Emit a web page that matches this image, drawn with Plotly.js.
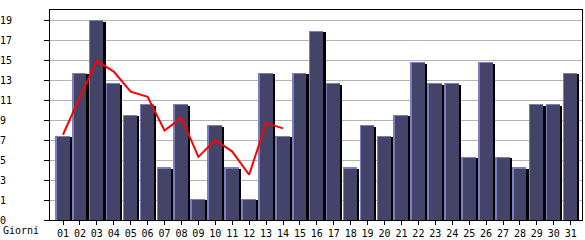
<!DOCTYPE html>
<html>
<head>
<meta charset="utf-8">
<script src="https://cdn.plot.ly/plotly-3.0.1.min.js"></script>
<style>html,body{margin:0;padding:0;background:#fff;}#chart{width:585px;height:240px;}</style>
</head>
<body>
<div id="chart"></div>
<script>
const days = ["01","02","03","04","05","06","07","08","09","10","11","12","13","14","15","16","17","18","19","20","21","22","23","24","25","26","27","28","29","30","31"];
const visits = [8,14,19,13,10,11,5,11,2,9,5,2,14,8,14,18,13,5,9,8,10,15,13,13,6,15,6,5,11,11,14];
const trendDays = ["01","02","03","04","05","06","07","08","09","10","11","12","13","14"];
const trendValues = [8.1,11.7,15.1,14.1,12.2,11.7,8.5,9.7,6.0,7.6,6.5,4.3,9.2,8.7];
const yTickVals = [0,1.9,3.8,5.7,7.6,9.5,11.4,13.3,15.2,17.1,19];
const yTickText = ["0","1","3","5","7","9","11","13","15","17","19"];

const yMax = 19.95;
const plotH = 210, pxPerUnit = plotH / yMax;
const font = {family: "DejaVu Sans Mono", size: 10, color: "#000"};

const shadow = {type: "bar", x: days, y: visits.map(v => v - 1.5 / pxPerUnit), base: 0,
  offset: 0.384, width: 0.13, marker: {color: "#000000", line: {width: 0}}, hoverinfo: "skip", showlegend: false};
const edge = {type: "bar", x: days, y: visits, offset: -0.473, width: 0.857,
  marker: {color: "#7c7cbe", line: {width: 0}}, hoverinfo: "skip", showlegend: false};
const face = {type: "bar", x: days, y: visits.map(v => v - 1.2 / pxPerUnit), offset: -0.473 + 1.6 / 16.92, width: 0.857 - 1.6 / 16.92,
  marker: {color: "#444468", line: {width: 0}}, showlegend: false};
const trend = {type: "scatter", mode: "lines", x: trendDays, y: trendValues,
  line: {color: "#ff0000", width: 2}, showlegend: false};

const layout = {
  width: 585, height: 240,
  margin: {l: 50, r: 3, t: 10, b: 20, pad: 0},
  paper_bgcolor: "#fff", plot_bgcolor: "#fff",
  barmode: "overlay", bargap: 0,
  font: font,
  showlegend: false,
  xaxis: {type: "category", range: [-0.768, 30.668], showgrid: false, zeroline: false,
    showline: true, linecolor: "#000", linewidth: 1, mirror: true,
    ticks: "outside", ticklen: 4, tickcolor: "#000", tickwidth: 1,
    tickfont: font, fixedrange: true},
  yaxis: {range: [0, yMax], tickmode: "array", tickvals: yTickVals, ticktext: yTickText.map(t => t.length < 2 ? t + "\u00a0" : t),
    showgrid: true, gridcolor: "#b4b4b4", gridwidth: 1, zeroline: false,
    showline: true, linecolor: "#000", linewidth: 1, mirror: true,
    ticks: "outside", ticklen: 5, tickcolor: "#000", tickwidth: 1,
    ticklabelstandoff: 30, tickfont: font, fixedrange: true},
  annotations: [{text: "Giorni", xref: "paper", yref: "paper", x: -0.092, y: -0.048,
    xanchor: "left", yanchor: "middle", showarrow: false, font: font}]
};

Plotly.newPlot("chart", [edge, face, shadow, trend], layout, {displayModeBar: false, staticPlot: true});
</script>
</body>
</html>
